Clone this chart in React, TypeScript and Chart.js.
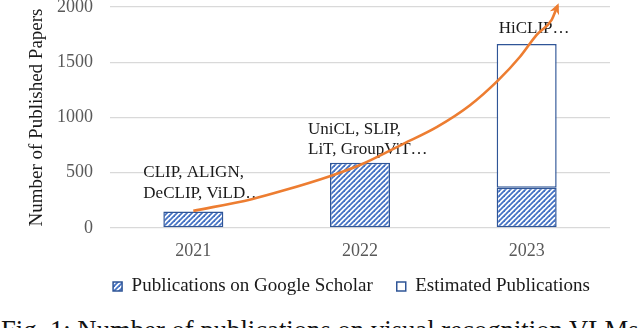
import React, { useEffect, useRef } from "react";
import { Chart, registerables } from "chart.js";

Chart.register(...registerables);

// ---------- data ----------
const years = ["2021", "2022", "2023"];
const scholarPublications = [150, 590, 365];
const estimatedPublications = [null, null, 1300];
const yTicks = [0, 500, 1000, 1500, 2000];
const annotations = [
  ["CLIP, ALIGN,", "DeCLIP, ViLD…"],
  ["UniCL, SLIP,", "LiT, GroupViT…"],
  ["HiCLIP…"],
];
// trend arrow (x in category index units, y in papers)
const trendX = [0, 0.35, 0.55, 0.81, 1.0, 1.26, 1.46, 1.66, 1.83, 1.96, 2.06, 2.15, 2.185];
const trendY = [155, 261, 343, 464, 570, 762, 913, 1111, 1338, 1550, 1748, 1884, 2010];
const legendLabels = ["Publications on Google Scholar", "Estimated Publications"];
const caption = "Fig. 1: Number of publications on visual recognition VLMs";

// ---------- styles ----------
const FONT = "'Liberation Serif', 'Times New Roman', serif";
const BLUE_BORDER = "#2F5597";
const BLUE_HATCH = "#4472C4";
const ORANGE = "#ED7D31";
const annotationOffsets = [
  { dx: -50, gap: 18 },
  { dx: -52, gap: 13 },
  { dx: -28, gap: 15 },
];

function makeHatch(): CanvasPattern | string {
  const c = document.createElement("canvas");
  const s = 5;
  c.width = s;
  c.height = s;
  const g = c.getContext("2d");
  if (!g) return BLUE_HATCH;
  g.fillStyle = "#ffffff";
  g.fillRect(0, 0, s, s);
  g.strokeStyle = BLUE_HATCH;
  g.lineWidth = 1.8;
  for (const k of [-s, 0, s]) {
    g.beginPath();
    g.moveTo(k - 1, s + 1);
    g.lineTo(k + s + 1, -1);
    g.stroke();
  }
  const p = g.createPattern(c, "repeat");
  return p || BLUE_HATCH;
}

export default function App() {
  const ref = useRef<HTMLCanvasElement | null>(null);

  useEffect(() => {
    if (!ref.current) return;
    const hatch = makeHatch();

    const annotationPlugin = {
      id: "annot",
      beforeDatasetsDraw(chart: any) {
        const ctx = chart.ctx;
        const m0 = chart.getDatasetMeta(0);
        const m1 = chart.getDatasetMeta(1);
        ctx.save();
        ctx.font = `17px ${FONT}`;
        ctx.fillStyle = "#1a1a1a";
        ctx.textAlign = "left";
        ctx.textBaseline = "middle";
        annotations.forEach((lines, i) => {
          const b0 = m0.data[i];
          const b1 = m1.data[i];
          let top = b0.y;
          if (estimatedPublications[i] != null && b1) top = Math.min(top, b1.y);
          const off = annotationOffsets[i];
          const x = b0.x + off.dx;
          const n = lines.length;
          lines.forEach((t, j) => {
            ctx.fillText(t, x, top - off.gap - (n - 1 - j) * 20.5);
          });
        });
        ctx.restore();
      },
      afterDatasetsDraw(chart: any) {
        const meta = chart.getDatasetMeta(2);
        const pts = meta.data;
        const n = pts.length;
        if (n < 2) return;
        const a = pts[n - 2];
        const b = pts[n - 1];
        let dx = b.x - a.x;
        let dy = b.y - a.y;
        const len = Math.hypot(dx, dy) || 1;
        dx /= len;
        dy /= len;
        const tipX = b.x + dx * 3;
        const tipY = b.y + dy * 3;
        const L = 11;
        const W = 5;
        const bx = tipX - dx * L;
        const by = tipY - dy * L;
        const nx = -dy;
        const ny = dx;
        const ctx = chart.ctx;
        ctx.save();
        ctx.fillStyle = ORANGE;
        ctx.beginPath();
        ctx.moveTo(tipX, tipY);
        ctx.lineTo(bx + nx * W, by + ny * W);
        ctx.lineTo(tipX - dx * L * 0.7, tipY - dy * L * 0.7);
        ctx.lineTo(bx - nx * W, by - ny * W);
        ctx.closePath();
        ctx.fill();
        ctx.restore();
      },
      afterLayout(chart: any) {
        const lg = chart.legend;
        if (lg) {
          const shiftX = 46.5;
          const shiftY = -9;
          lg.left += shiftX;
          lg.right += shiftX;
          lg.top += shiftY;
          lg.bottom += shiftY;
        }
      },
    };

    const chart = new Chart(ref.current, {
      type: "bar",
      data: {
        labels: years,
        datasets: [
          {
            label: legendLabels[0],
            data: scholarPublications,
            backgroundColor: hatch as any,
            borderColor: BLUE_BORDER,
            borderWidth: 1.5,
            borderSkipped: false,
            categoryPercentage: 1,
            barPercentage: 0.36,
            grouped: false,
            order: 1,
          },
          {
            label: legendLabels[1],
            data: estimatedPublications as any,
            backgroundColor: "#ffffff",
            borderColor: BLUE_BORDER,
            borderWidth: 1.5,
            borderSkipped: false,
            categoryPercentage: 1,
            barPercentage: 0.36,
            grouped: false,
            order: 1,
          },
          {
            type: "line" as any,
            label: "trend",
            data: trendX.map((x, i) => ({ x, y: trendY[i] })) as any,
            xAxisID: "xLine",
            stack: "trend",
            borderColor: ORANGE,
            borderWidth: 2.6,
            pointRadius: 0,
            fill: false,
            cubicInterpolationMode: "monotone",
            clip: false as any,
            order: 0,
          } as any,
        ],
      },
      options: {
        animation: false,
        responsive: false,
        events: [],
        layout: { padding: { top: 7, left: 0, right: 30, bottom: 0 } },
        scales: {
          x: {
            stacked: true,
            grid: { display: false, drawTicks: false },
            border: { display: false },
            ticks: {
              color: "#595959",
              font: { family: FONT, size: 18 },
              padding: 12,
            },
            afterFit: (s: any) => {
              s.height = 34;
            },
          },
          xLine: {
            type: "linear",
            display: false,
            offset: false,
            min: -0.5,
            max: 2.5,
          },
          y: {
            stacked: true,
            min: 0,
            max: 2000,
            afterBuildTicks: (s: any) => {
              s.ticks = yTicks.map((v) => ({ value: v }));
            },
            grid: { color: "#d9d9d9", lineWidth: 1.3, drawTicks: false },
            border: { display: false },
            ticks: {
              color: "#595959",
              font: { family: FONT, size: 18 },
              padding: 17,
              callback: (v: any) => String(v),
            },
            title: {
              display: true,
              text: "Number of Published Papers",
              color: "#1a1a1a",
              font: { family: FONT, size: 19 },
              padding: { top: 26, bottom: 0 },
            },
            afterFit: (s: any) => {
              s.width = 110;
              s.paddingTop = 0;
              s.paddingBottom = 0;
            },
          },
        },
        plugins: {
          legend: {
            position: "bottom",
            labels: {
              color: "#1a1a1a",
              font: { family: FONT, size: 19 },
              boxWidth: 9,
              boxHeight: 9,
              padding: 24,
              filter: (item: any) => item.datasetIndex < 2,
            },
          },
          tooltip: { enabled: false },
        },
      },
      plugins: [annotationPlugin],
    } as any);
    return () => chart.destroy();
  }, []);

  return (
    <div
      style={{
        position: "fixed",
        left: 0,
        top: 0,
        width: 640,
        height: 328,
        overflow: "hidden",
        background: "#ffffff",
      }}
    >
      <canvas ref={ref} width={640} height={315} style={{ display: "block" }} />
      <div
        style={{
          position: "absolute",
          left: 1,
          top: 317,
          whiteSpace: "nowrap",
          fontFamily: FONT,
          fontSize: 26.7,
          lineHeight: "27px",
          color: "#111",
        }}
      >
        {caption}
      </div>
    </div>
  );
}
